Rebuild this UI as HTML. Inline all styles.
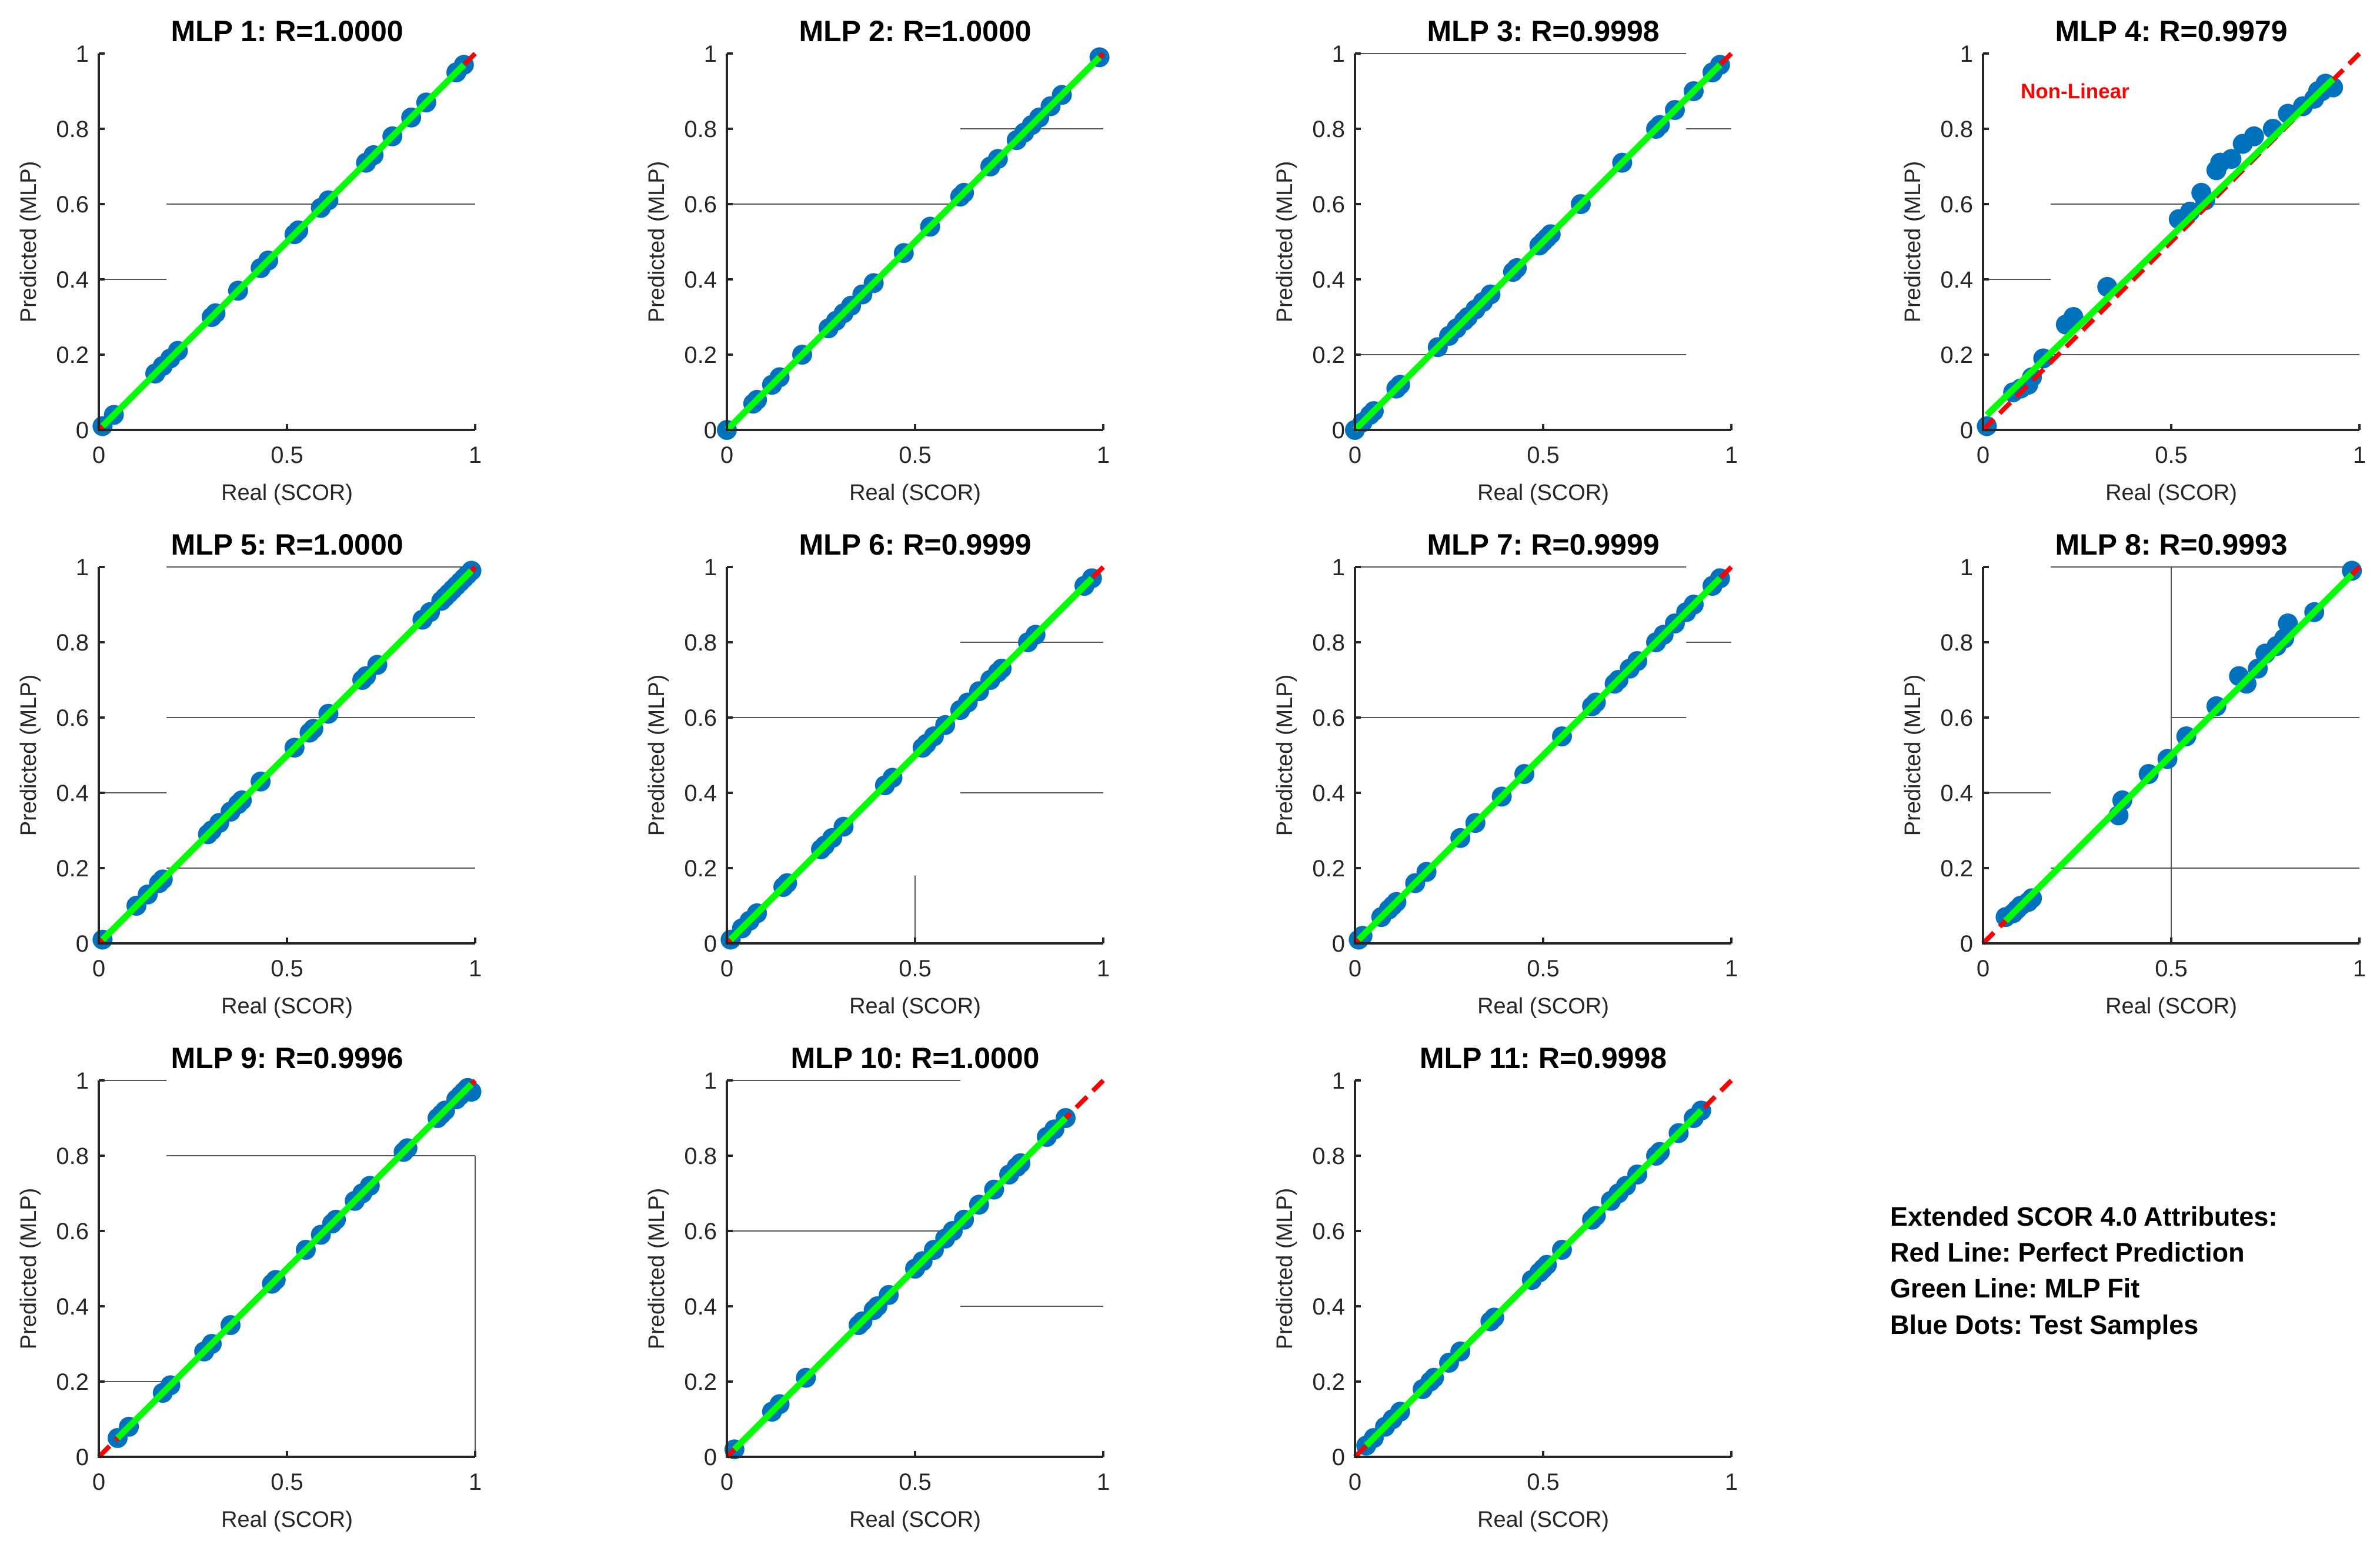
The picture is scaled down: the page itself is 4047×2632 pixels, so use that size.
<!DOCTYPE html>
<html><head><meta charset="utf-8"><style>
html,body{margin:0;padding:0;background:#fff}
svg{display:block;font-family:"Liberation Sans",Arial,sans-serif}
</style></head><body>
<svg id="fig" width="4047" height="2632" viewBox="0 0 4047 2632" xmlns="http://www.w3.org/2000/svg">
<rect width="4047" height="2632" fill="#fff"/>
<g font-weight="bold" font-size="45" fill="#000">
<text x="3214" y="2084">Extended SCOR 4.0 Attributes:</text>
<text x="3214" y="2145">Red Line: Perfect Prediction</text>
<text x="3214" y="2206">Green Line: MLP Fit</text>
<text x="3214" y="2268">Blue Dots: Test Samples</text>
</g>
</svg>
<script>
const titles=["MLP 1: R=1.0000","MLP 2: R=1.0000","MLP 3: R=0.9998","MLP 4: R=0.9979","MLP 5: R=1.0000","MLP 6: R=0.9999","MLP 7: R=0.9999","MLP 8: R=0.9993","MLP 9: R=0.9996","MLP 10: R=1.0000","MLP 11: R=0.9998"];
const xTicks=[0,0.5,1];
const xTickLabels=["0","0.5","1"];
const yTicks=[0,0.2,0.4,0.6,0.8,1];
const yTickLabels=["0","0.2","0.4","0.6","0.8","1"];
const fitA=[0,0,0,0.03,0,0,0,0,0,0,0];
const fitB=[1,1,1,0.97,1,1,1,1,1,1,1];
const xs1=[0.01,0.04,0.15,0.17,0.19,0.21,0.3,0.31,0.37,0.43,0.45,0.52,0.53,0.59,0.61,0.71,0.73,0.78,0.83,0.87,0.95,0.97];
const ys1=[0.01,0.04,0.15,0.17,0.19,0.21,0.3,0.31,0.37,0.43,0.45,0.52,0.53,0.59,0.61,0.71,0.73,0.78,0.83,0.87,0.95,0.97];
const xs2=[0,0.07,0.08,0.12,0.14,0.2,0.27,0.29,0.31,0.33,0.36,0.39,0.47,0.54,0.62,0.63,0.7,0.72,0.77,0.79,0.81,0.83,0.86,0.89,0.99];
const ys2=[0,0.07,0.08,0.12,0.14,0.2,0.27,0.29,0.31,0.33,0.36,0.39,0.47,0.54,0.62,0.63,0.7,0.72,0.77,0.79,0.81,0.83,0.86,0.89,0.99];
const xs3=[0,0.02,0.04,0.05,0.11,0.12,0.22,0.25,0.27,0.29,0.3,0.32,0.34,0.36,0.42,0.43,0.49,0.5,0.51,0.52,0.6,0.71,0.8,0.81,0.85,0.9,0.95,0.97];
const ys3=[0,0.02,0.04,0.05,0.11,0.12,0.22,0.25,0.27,0.29,0.3,0.32,0.34,0.36,0.42,0.43,0.49,0.5,0.51,0.52,0.6,0.71,0.8,0.81,0.85,0.9,0.95,0.97];
const xs4=[0.01,0.08,0.1,0.12,0.13,0.16,0.22,0.24,0.33,0.52,0.55,0.58,0.59,0.62,0.63,0.66,0.69,0.72,0.77,0.81,0.85,0.88,0.9,0.91,0.93,0.89];
const ys4=[0.01,0.1,0.11,0.12,0.14,0.19,0.28,0.3,0.38,0.56,0.58,0.63,0.61,0.69,0.71,0.72,0.76,0.78,0.8,0.84,0.86,0.88,0.9,0.92,0.91,0.9];
const xs5=[0.01,0.1,0.13,0.16,0.17,0.29,0.3,0.32,0.35,0.37,0.38,0.43,0.52,0.56,0.57,0.61,0.7,0.71,0.74,0.86,0.88,0.91,0.92,0.93,0.94,0.95,0.96,0.97,0.98,0.99];
const ys5=[0.01,0.1,0.13,0.16,0.17,0.29,0.3,0.32,0.35,0.37,0.38,0.43,0.52,0.56,0.57,0.61,0.7,0.71,0.74,0.86,0.88,0.91,0.92,0.93,0.94,0.95,0.96,0.97,0.98,0.99];
const xs6=[0.01,0.04,0.06,0.08,0.15,0.16,0.25,0.26,0.28,0.31,0.42,0.44,0.52,0.53,0.55,0.58,0.62,0.64,0.67,0.7,0.72,0.73,0.8,0.82,0.95,0.97];
const ys6=[0.01,0.04,0.06,0.08,0.15,0.16,0.25,0.26,0.28,0.31,0.42,0.44,0.52,0.53,0.55,0.58,0.62,0.64,0.67,0.7,0.72,0.73,0.8,0.82,0.95,0.97];
const xs7=[0.01,0.02,0.07,0.09,0.1,0.11,0.16,0.19,0.28,0.32,0.39,0.45,0.55,0.63,0.64,0.69,0.7,0.73,0.75,0.8,0.82,0.85,0.88,0.9,0.95,0.97];
const ys7=[0.01,0.02,0.07,0.09,0.1,0.11,0.16,0.19,0.28,0.32,0.39,0.45,0.55,0.63,0.64,0.69,0.7,0.73,0.75,0.8,0.82,0.85,0.88,0.9,0.95,0.97];
const xs8=[0.06,0.08,0.09,0.1,0.12,0.13,0.36,0.37,0.44,0.49,0.54,0.62,0.68,0.7,0.73,0.75,0.78,0.8,0.81,0.88,0.98];
const ys8=[0.07,0.08,0.09,0.1,0.11,0.12,0.34,0.38,0.45,0.49,0.55,0.63,0.71,0.69,0.73,0.77,0.79,0.81,0.85,0.88,0.99];
const xs9=[0.05,0.08,0.17,0.19,0.28,0.3,0.35,0.46,0.47,0.55,0.59,0.62,0.63,0.68,0.7,0.72,0.81,0.82,0.9,0.91,0.92,0.95,0.96,0.97,0.98,0.99];
const ys9=[0.05,0.08,0.17,0.19,0.28,0.3,0.35,0.46,0.47,0.55,0.59,0.62,0.63,0.68,0.7,0.72,0.81,0.82,0.9,0.91,0.92,0.95,0.96,0.97,0.98,0.97];
const xs10=[0.02,0.12,0.14,0.21,0.35,0.36,0.39,0.4,0.43,0.5,0.52,0.55,0.58,0.6,0.63,0.67,0.71,0.75,0.77,0.78,0.85,0.87,0.9];
const ys10=[0.02,0.12,0.14,0.21,0.35,0.36,0.39,0.4,0.43,0.5,0.52,0.55,0.58,0.6,0.63,0.67,0.71,0.75,0.77,0.78,0.85,0.87,0.9];
const xs11=[0.03,0.05,0.08,0.1,0.12,0.18,0.2,0.21,0.25,0.28,0.36,0.37,0.47,0.49,0.5,0.51,0.55,0.63,0.64,0.68,0.7,0.72,0.75,0.8,0.81,0.86,0.9,0.92];
const ys11=[0.03,0.05,0.08,0.1,0.12,0.18,0.2,0.21,0.25,0.28,0.36,0.37,0.47,0.49,0.5,0.51,0.55,0.63,0.64,0.68,0.7,0.72,0.75,0.8,0.81,0.86,0.9,0.92];
const allX=[xs1,xs2,xs3,xs4,xs5,xs6,xs7,xs8,xs9,xs10,xs11];
const allY=[ys1,ys2,ys3,ys4,ys5,ys6,ys7,ys8,ys9,ys10,ys11];
const hGuides=[[[0.6,0.18,1],[0.4,0,0.18]],[[0.8,0.62,1],[0.6,0,0.62]],[[1,0,0.88],[0.8,0.88,1],[0.2,0,0.88]],[[0.6,0.18,1],[0.4,0,0.18],[0.2,0.18,1]],[[1,0.18,1],[0.6,0.18,1],[0.4,0,0.18],[0.2,0.18,1]],[[0.8,0.62,1],[0.6,0,0.62],[0.4,0.62,1]],[[1,0,0.88],[0.8,0.88,1],[0.6,0,0.88]],[[1,0.18,1],[0.6,0.5,1],[0.4,0,0.18],[0.2,0.18,1]],[[1,0,0.18],[0.8,0.18,1],[0.2,0,0.18]],[[1,0,0.62],[0.6,0,0.62],[0.4,0.62,1]],[]];
const vGuides=[[],[],[],[],[],[[0.5,0,0.18]],[],[[0.5,0,1]],[[1,0,0.8]],[],[]];

const NS="http://www.w3.org/2000/svg";
const svg=document.getElementById('fig');
function mk(tag,attrs,parent){const e=document.createElementNS(NS,tag);for(const k in attrs)e.setAttribute(k,attrs[k]);parent.appendChild(e);return e;}
const colL=[168,1236,2304,3372], rowT=[91,964,1837], W=640, H=640;
for(let p=0;p<11;p++){
  const L=colL[p%4], T=rowT[Math.floor(p/4)], B=T+H, R=L+W;
  const sx=v=>L+v*W, sy=v=>B-v*H;
  const g=mk('g',{},svg);
  
  
  hGuides[p].forEach(h=>{const l=mk('line',{x1:sx(h[1]),x2:sx(h[2]),y1:sy(h[0]),y2:sy(h[0]),stroke:'#555','stroke-width':2},g);
    
    });
  vGuides[p].forEach(v=>{const l=mk('line',{x1:sx(v[0]),x2:sx(v[0]),y1:sy(v[1]),y2:sy(v[2]),stroke:'#555','stroke-width':2},g);
    
    });
  const xd=allX[p], yd=allY[p];
  xd.forEach((x,i)=>{const c=mk('circle',{cx:sx(x),cy:sy(yd[i]),r:17,fill:'#0072BD'},g);
    
    });
  const rl=mk('line',{x1:sx(0),y1:sy(0),x2:sx(1),y2:sy(1),stroke:'#ff0000','stroke-width':8,'stroke-dasharray':'26 14'},g);
  
  
  const mn=Math.min(...xd), mx=Math.max(...xd);
  const gl=mk('line',{x1:sx(mn),y1:sy(fitA[p]+fitB[p]*mn),x2:sx(mx),y2:sy(fitA[p]+fitB[p]*mx),stroke:'#00ff00','stroke-width':11},g);
  
  
  const ax=mk('path',{d:`M${L} ${T}V${B}H${R}`,fill:'none',stroke:'#262626','stroke-width':4},g);
  
  
  xTicks.forEach((t,i)=>{mk('line',{x1:sx(t),x2:sx(t),y1:B,y2:B-10,stroke:'#262626','stroke-width':4},g);
    const tx=mk('text',{x:sx(t),y:B+56,'font-size':40,'text-anchor':'middle',fill:'#262626'},g);tx.textContent=xTickLabels[i];
    
    });
  yTicks.forEach((t,i)=>{mk('line',{x1:L,x2:L+10,y1:sy(t),y2:sy(t),stroke:'#262626','stroke-width':4},g);
    const tx=mk('text',{x:L-17,y:sy(t)+14,'font-size':40,'text-anchor':'end',fill:'#262626'},g);tx.textContent=yTickLabels[i];
    
    });
  const tt=mk('text',{x:L+W/2,y:T-21,'font-size':50,'font-weight':'bold','text-anchor':'middle',fill:'#000'},g);tt.textContent=titles[p];
  
  
  const xl=mk('text',{x:L+W/2,y:B+119,'font-size':38,'text-anchor':'middle',fill:'#262626'},g);xl.textContent='Real (SCOR)';
  
  
  const yl=mk('text',{x:0,y:0,'font-size':38,'text-anchor':'middle',fill:'#262626',transform:`translate(${L-107},${T+H/2}) rotate(-90)`},g);yl.textContent='Predicted (MLP)';
  
  
  if(p===3){const nl=mk('text',{x:sx(0.1),y:sy(0.9)+12,'font-size':35,'font-weight':'bold',fill:'#ff0000'},g);nl.textContent='Non-Linear';
    
    }
}
</script>
</body></html>
